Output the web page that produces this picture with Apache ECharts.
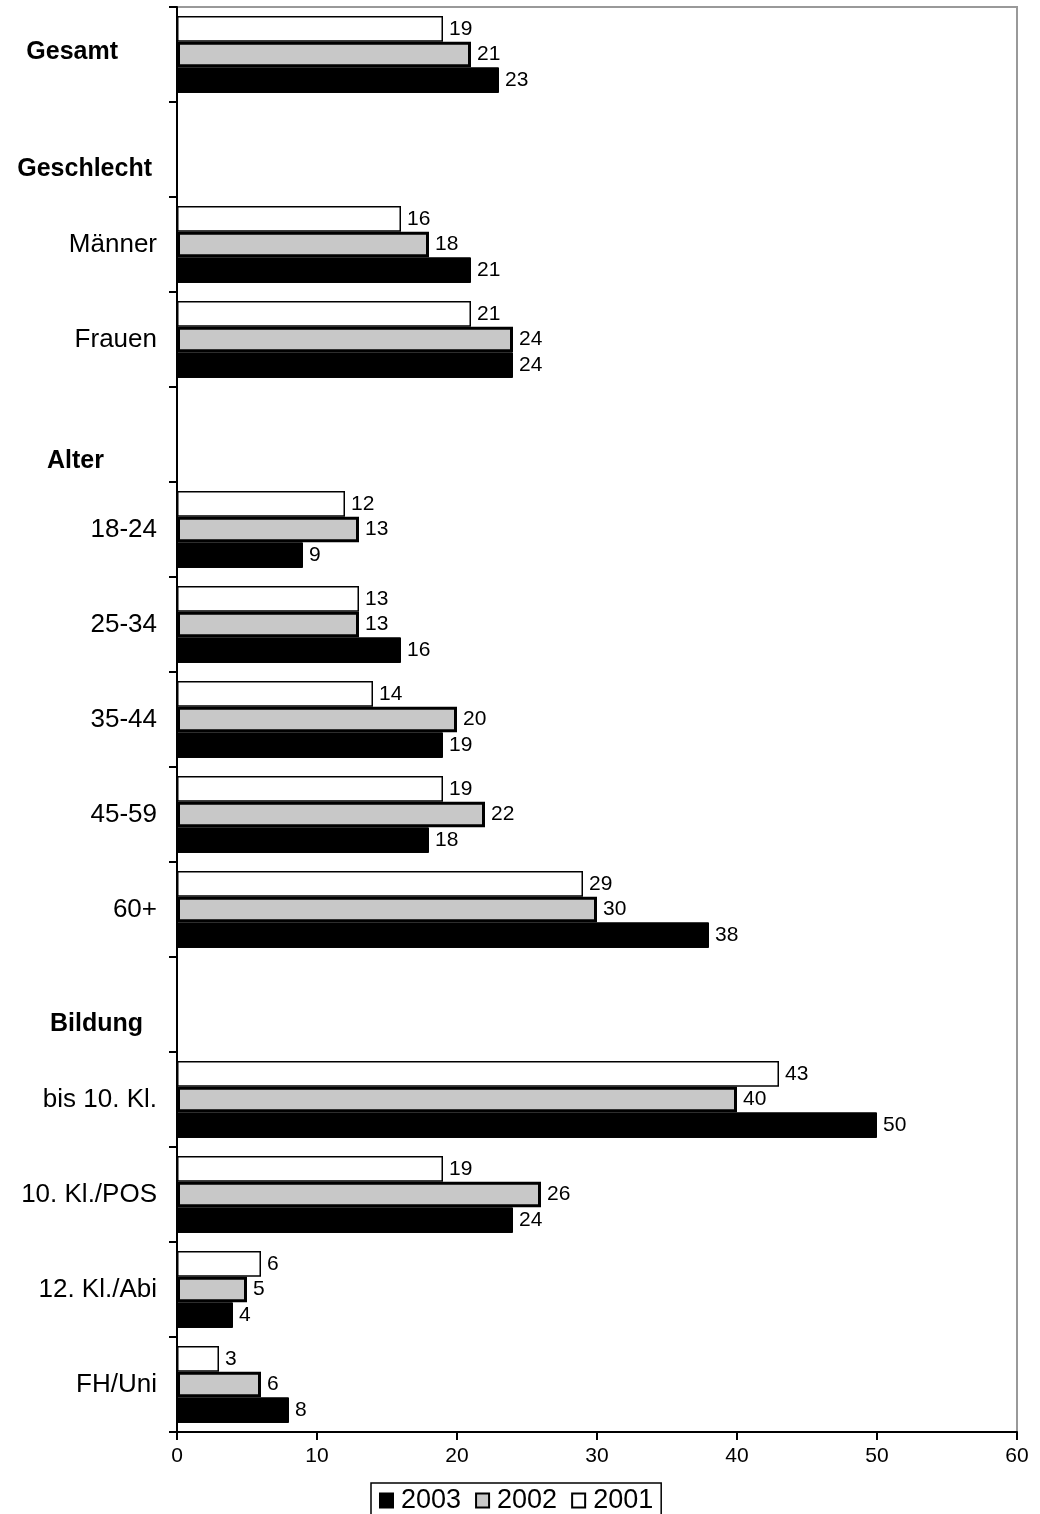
<!DOCTYPE html>
<html>
<head>
<meta charset="utf-8">
<style>
  html, body { margin: 0; padding: 0; background: #ffffff; }
  #chart { width: 1040px; height: 1514px; }
</style>
<script src="https://cdn.jsdelivr.net/npm/echarts@6/dist/echarts.min.js"></script>
</head>
<body>
<div id="chart"></div>
<script>
// ---- data ----
var categories = ["Gesamt", "Geschlecht", "Männer", "Frauen", "Alter", "18-24", "25-34", "35-44", "45-59", "60+", "Bildung", "bis 10. Kl.", "10. Kl./POS", "12. Kl./Abi", "FH/Uni"];
var headers = { "Gesamt": "hg", "Geschlecht": "hs", "Alter": "ha", "Bildung": "hb" };
var values2001 = [19, null, 16, 21, null, 12, 13, 14, 19, 29, null, 43, 19, 6, 3];
var values2002 = [21, null, 18, 24, null, 13, 13, 20, 22, 30, null, 40, 26, 5, 6];
var values2003 = [23, null, 21, 24, null, 9, 16, 19, 18, 38, null, 50, 24, 4, 8];
var xTicks = { min: 0, max: 60, interval: 10 };

var FONT = '"Liberation Sans", Arial, sans-serif';
var chart = echarts.init(document.getElementById('chart'), null, { renderer: 'canvas' });

var labelStyle = {
  show: true, position: 'right', distance: 6,
  color: '#000', fontSize: 21, fontFamily: FONT,
  formatter: function (p) { return p.value == null ? '' : p.value; }
};

var option = {
  backgroundColor: '#ffffff',
  animation: false,
  grid: {
    left: 177, right: 23, top: 7, bottom: 82,
    show: true, borderColor: '#999999', borderWidth: 2, backgroundColor: 'transparent'
  },
  legend: {
    data: [
      { name: '2003', icon: 'rect' },
      { name: '2002', icon: 'rect' },
      { name: '2001', icon: 'rect' }
    ],
    left: 371, top: 1483,
    orient: 'horizontal',
    padding: [4, 8, 12, 8],
    itemWidth: 13, itemHeight: 14, itemGap: 14,
    borderColor: '#000', borderWidth: 1.5, borderRadius: 0,
    textStyle: { fontSize: 27, fontFamily: FONT, color: '#000', padding: [0, 0, 0, 3] },
    selectedMode: false
  },
  xAxis: {
    type: 'value', min: xTicks.min, max: xTicks.max, interval: xTicks.interval,
    axisLine: { show: true, lineStyle: { color: '#000', width: 2 } },
    axisTick: { show: true, length: 8, lineStyle: { color: '#000', width: 2 } },
    axisLabel: { fontSize: 21, fontFamily: FONT, color: '#000', margin: 14 },
    splitLine: { show: false }
  },
  yAxis: {
    type: 'category', data: categories, inverse: true,
    axisLine: { show: true, lineStyle: { color: '#000', width: 2 } },
    axisTick: { show: true, length: 8, alignWithLabel: false, interval: 0, lineStyle: { color: '#000', width: 2 } },
    axisLabel: {
      interval: 0, margin: 20, fontSize: 26, fontFamily: FONT, color: '#000',
      formatter: function (v) { return headers[v] ? '{' + headers[v] + '|' + v + '}' : v; },
      rich: {
        hg: { fontSize: 25, fontWeight: 'bold', fontFamily: FONT, color: '#000', padding: [0, 39, 4, 0] },
        hs: { fontSize: 25, fontWeight: 'bold', fontFamily: FONT, color: '#000', padding: [40, 5, 0, 0] },
        ha: { fontSize: 25, fontWeight: 'bold', fontFamily: FONT, color: '#000', padding: [54, 53, 0, 0] },
        hb: { fontSize: 25, fontWeight: 'bold', fontFamily: FONT, color: '#000', padding: [40, 14, 0, 0] }
      }
    },
    splitLine: { show: false }
  },
  series: [
    {
      name: '2001', type: 'bar', data: values2001, barGap: '0%', barCategoryGap: '19%', z: 2,
      itemStyle: { color: '#ffffff', borderColor: '#000', borderWidth: 1.5 },
      label: labelStyle
    },
    {
      name: '2002', type: 'bar', data: values2002, barGap: '0%', barCategoryGap: '19%', z: 4,
      itemStyle: { color: '#c8c8c8', borderColor: '#000', borderWidth: 3 },
      label: labelStyle
    },
    {
      name: '2003', type: 'bar', data: values2003, barGap: '0%', barCategoryGap: '19%', z: 3,
      itemStyle: { color: '#000000', borderColor: '#000', borderWidth: 1 },
      label: labelStyle
    }
  ]
};
chart.setOption(option);
</script>
</body>
</html>
